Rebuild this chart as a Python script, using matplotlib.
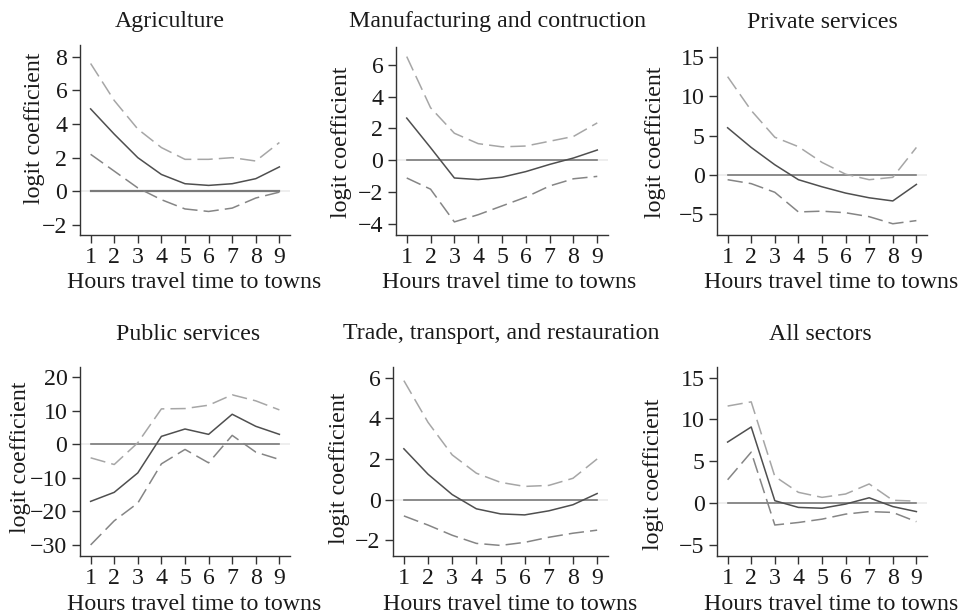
import numpy as np
import matplotlib
matplotlib.use('Agg')
import matplotlib.pyplot as plt

plt.rcParams['font.family'] = ['Liberation Serif', 'DejaVu Serif']
plt.rcParams['font.size'] = 17.2

hours = [1, 2, 3, 4, 5, 6, 7, 8, 9]
titles = ['Agriculture', 'Manufacturing and contruction', 'Private services',
          'Public services', 'Trade, transport, and restauration', 'All sectors']

# point estimates and confidence bounds
agri_est = [4.9, 3.4, 2.0, 1.0, 0.45, 0.35, 0.45, 0.75, 1.45]
agri_hi = [7.6, 5.4, 3.7, 2.6, 1.9, 1.9, 2.0, 1.8, 2.9]
agri_lo = [2.2, 1.2, 0.2, -0.5, -1.05, -1.2, -1.0, -0.4, -0.05]

manu_est = [2.65, 0.8, -1.1, -1.2, -1.05, -0.7, -0.25, 0.15, 0.65]
manu_hi = [6.5, 3.3, 1.7, 1.05, 0.85, 0.9, 1.2, 1.5, 2.35]
manu_lo = [-1.1, -1.8, -3.85, -3.4, -2.85, -2.3, -1.6, -1.15, -1.0]

priv_est = [6.0, 3.5, 1.3, -0.6, -1.5, -2.3, -2.9, -3.3, -1.2]
priv_hi = [12.5, 8.2, 4.8, 3.6, 1.6, 0.1, -0.6, -0.3, 3.5]
priv_lo = [-0.6, -1.1, -2.2, -4.7, -4.6, -4.8, -5.3, -6.2, -5.8]

publ_est = [-17.0, -14.3, -8.5, 2.4, 4.6, 3.0, 9.0, 5.4, 3.0]
publ_hi = [-4.0, -6.0, 0.5, 10.6, 10.7, 11.7, 14.8, 13.0, 10.3]
publ_lo = [-30.0, -22.8, -17.5, -5.8, -1.5, -5.5, 2.7, -2.3, -4.5]

trade_est = [2.5, 1.25, 0.25, -0.45, -0.7, -0.75, -0.55, -0.25, 0.3]
trade_hi = [5.85, 3.8, 2.2, 1.3, 0.85, 0.65, 0.7, 1.05, 2.0]
trade_lo = [-0.8, -1.25, -1.75, -2.15, -2.25, -2.1, -1.85, -1.65, -1.5]

all_est = [7.3, 9.1, 0.3, -0.5, -0.6, -0.1, 0.65, -0.4, -1.0]
all_hi = [11.6, 12.1, 3.2, 1.3, 0.7, 1.1, 2.3, 0.35, 0.25]
all_lo = [2.8, 6.1, -2.6, -2.3, -1.9, -1.3, -1.0, -1.1, -2.2]

estimates = [agri_est, manu_est, priv_est, publ_est, trade_est, all_est]
uppers = [agri_hi, manu_hi, priv_hi, publ_hi, trade_hi, all_hi]
lowers = [agri_lo, manu_lo, priv_lo, publ_lo, trade_lo, all_lo]
yticks = [[-2, 0, 2, 4, 6, 8], [-4, -2, 0, 2, 4, 6], [-5, 0, 5, 10, 15],
          [-30, -20, -10, 0, 10, 20], [-2, 0, 2, 4, 6], [-5, 0, 5, 10, 15]]
ylims = [(-2.6, 8.7), (-4.67, 7.1), (-7.63, 16.27),
         (-33.3, 23.1), (-2.77, 6.52), (-6.3, 16.26)]

# layout in pixels: axes box (left, right, top, bottom), text centres
W, H = 961, 614
boxes = [(80, 290, 45, 235), (396, 608, 47, 235), (717, 927, 47, 235),
         (80, 290, 367, 556), (393, 608, 367, 556), (717, 927, 367, 556)]
title_x = [170, 498, 822, 188, 501, 820]
title_y = [22, 22, 22, 334, 334, 334]
ylab_x = [35, 341, 656, 21, 339, 654]
ylab_y = [128, 142, 142, 457, 468, 474]
xlab_x = [194, 509, 831, 194, 510, 831]
xlab_y = [283, 283, 283, 604, 604, 604]

fig = plt.figure(figsize=(9.61, 6.14), dpi=100)

for i in range(6):
    l, r, t, b = boxes[i]
    ax = fig.add_axes([l / W, 1 - b / H, (r - l) / W, (b - t) / H])
    ax.axhline(0, color='#ebebeb', lw=1.2, zorder=1)
    ax.plot([1, 9], [0, 0], color='#7a7a7a', lw=1.6 if i == 0 else 1.2, zorder=2)
    ax.plot(hours, uppers[i], color='#a6a6a6', lw=1.1, dashes=(10, 4), zorder=3)
    ax.plot(hours, lowers[i], color='#858585', lw=1.1, dashes=(10, 4), zorder=3)
    ax.plot(hours, estimates[i], color='#4f4f4f', lw=1.1, zorder=4)
    ax.set_xlim(0.55, 9.45)
    ax.set_ylim(*ylims[i])
    ax.set_xticks(hours)
    ax.set_yticks(yticks[i])
    ax.set_yticklabels([str(v).replace('-', '\u2212') for v in yticks[i]])
    for s in ['top', 'right']:
        ax.spines[s].set_visible(False)
    for s in ['left', 'bottom']:
        ax.spines[s].set_color('#333333')
        ax.spines[s].set_linewidth(1.0)
    ax.tick_params(direction='out', length=6, width=1.0, color='#333333',
                   labelcolor='#1a1a1a', labelsize=17.2, pad=3)
    fig.text(title_x[i] / W, 1 - title_y[i] / H, titles[i], ha='center',
             va='center', fontsize=17.2, color='#1a1a1a')
    fig.text(ylab_x[i] / W, 1 - ylab_y[i] / H, 'logit coefficient', rotation=90,
             ha='center', va='center', fontsize=17.2, color='#1a1a1a')
    fig.text(xlab_x[i] / W, 1 - xlab_y[i] / H, 'Hours travel time to towns',
             ha='center', va='center', fontsize=17.2, color='#1a1a1a')

fig.savefig('out.png', dpi=100)
